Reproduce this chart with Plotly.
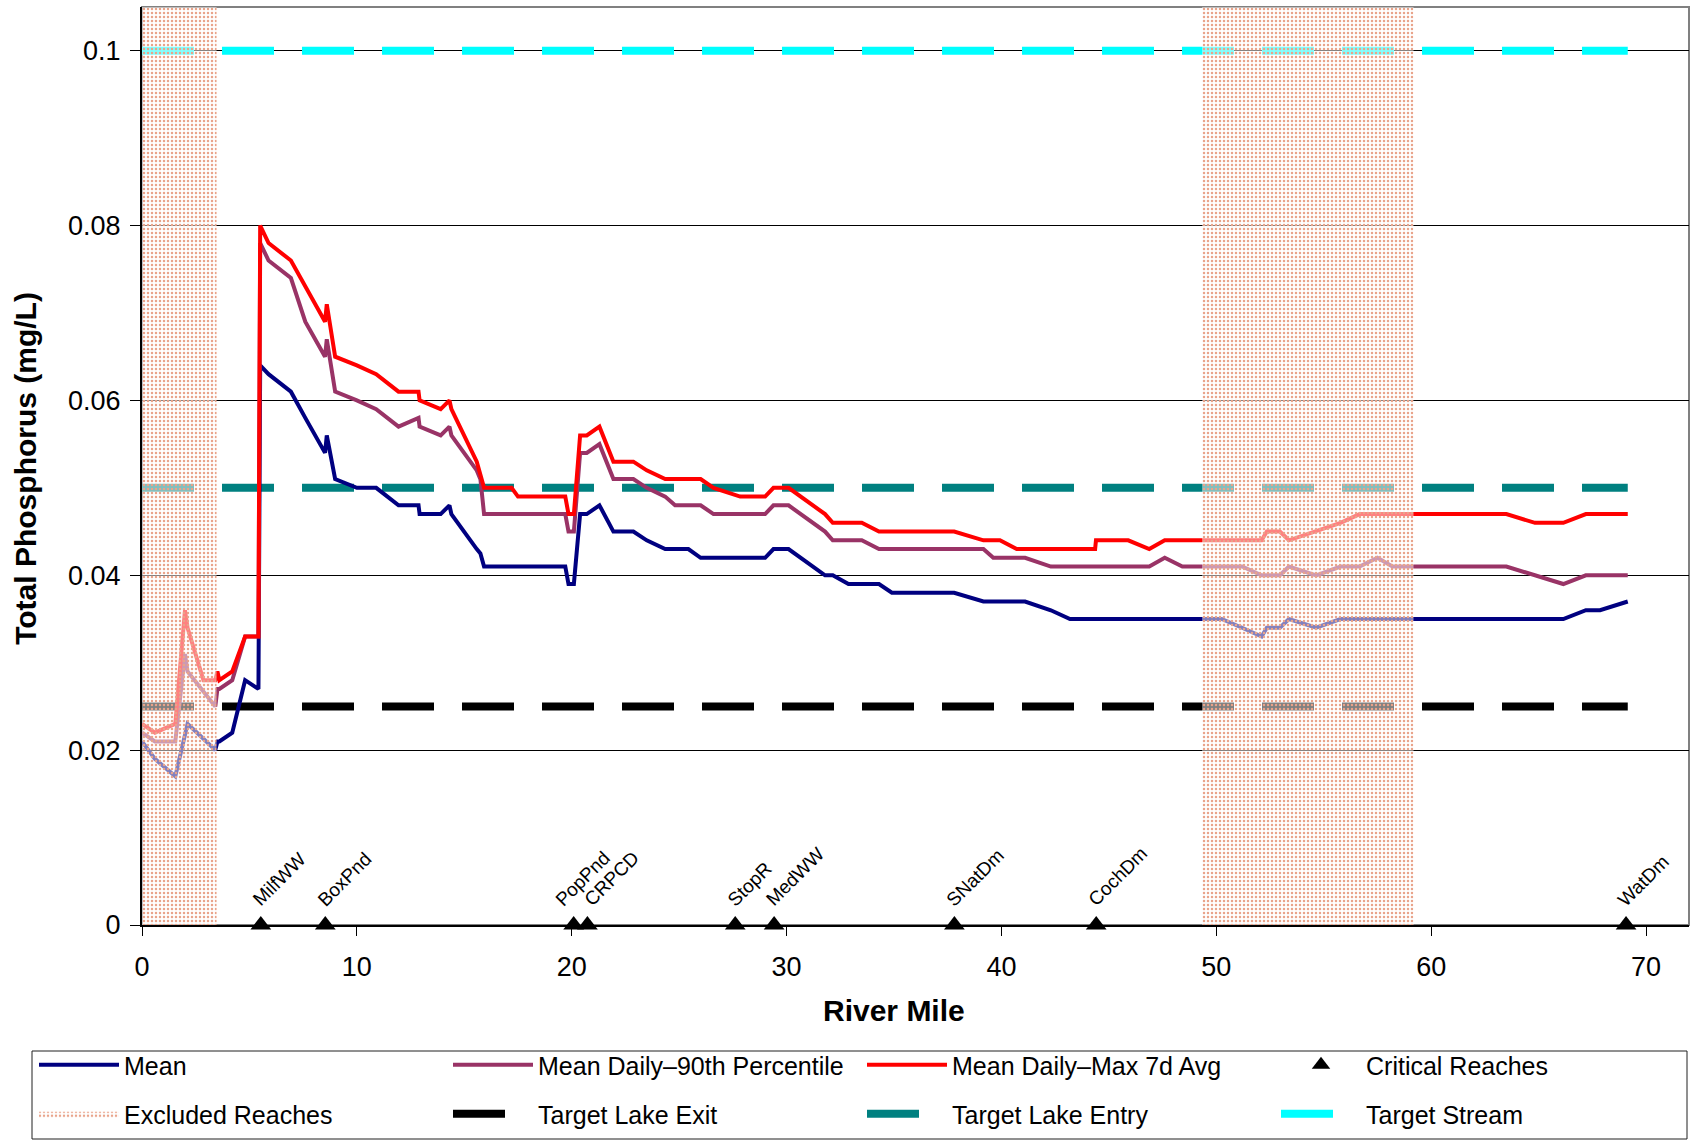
import plotly.graph_objects as go

# ---------------- data ----------------
mile = [0.0, 0.6, 1.55, 2.0, 2.12, 2.86, 3.41, 3.51, 3.6, 4.2, 4.8, 5.42, 5.5, 5.89, 6.93, 7.6,
        8.52, 8.6, 8.99, 10.0, 10.9, 11.94, 12.87, 12.92, 13.9, 14.31, 14.4, 15.58, 15.75, 15.92,
        17.2, 17.5, 19.7, 19.85, 20.1, 20.39, 20.7, 21.29, 21.94, 22.87, 23.49, 24.35, 24.81,
        25.43, 26.0, 26.6, 27.84, 29.0, 29.39, 30.09, 31.79, 32.15, 32.88, 33.5, 34.3, 34.9,
        37.8, 39.16, 39.62, 39.93, 40.71, 41.1, 42.3, 43.19, 44.36, 44.4, 45.9, 46.88, 47.6,
        48.42, 50.25, 51.2, 52.11, 52.35, 52.96, 53.38, 54.65, 55.78, 56.67, 57.5, 58.2, 63.5,
        64.83, 66.15, 67.2, 67.86, 69.15]

mean_tp = [0.021, 0.019, 0.017, 0.022, 0.023, 0.0213, 0.020, 0.021, 0.021, 0.022, 0.028, 0.027,
           0.064, 0.063, 0.061, 0.058, 0.054, 0.056, 0.051, 0.050, 0.050, 0.048, 0.048, 0.047,
           0.047, 0.048, 0.047, 0.043, 0.0425, 0.041, 0.041, 0.041, 0.041, 0.039, 0.039, 0.047,
           0.047, 0.048, 0.045, 0.045, 0.044, 0.043, 0.043, 0.043, 0.042, 0.042, 0.042, 0.042,
           0.043, 0.043, 0.040, 0.040, 0.039, 0.039, 0.039, 0.038, 0.038, 0.037, 0.037, 0.037,
           0.037, 0.037, 0.036, 0.035, 0.035, 0.035, 0.035, 0.035, 0.035, 0.035, 0.035, 0.034,
           0.033, 0.034, 0.034, 0.035, 0.034, 0.035, 0.035, 0.035, 0.035, 0.035, 0.035, 0.035,
           0.036, 0.036, 0.037]

p90_tp = [0.022, 0.021, 0.021, 0.031, 0.029, 0.0267, 0.025, 0.027, 0.027, 0.028, 0.033, 0.033,
          0.078, 0.076, 0.074, 0.069, 0.065, 0.067, 0.061, 0.060, 0.059, 0.057, 0.058, 0.057,
          0.056, 0.057, 0.056, 0.052, 0.051, 0.047, 0.047, 0.047, 0.047, 0.045, 0.045, 0.054,
          0.054, 0.055, 0.051, 0.051, 0.050, 0.049, 0.048, 0.048, 0.048, 0.047, 0.047, 0.047,
          0.048, 0.048, 0.045, 0.044, 0.044, 0.044, 0.043, 0.043, 0.043, 0.043, 0.042, 0.042,
          0.042, 0.042, 0.041, 0.041, 0.041, 0.041, 0.041, 0.041, 0.042, 0.041, 0.041, 0.041,
          0.040, 0.040, 0.040, 0.041, 0.040, 0.041, 0.041, 0.042, 0.041, 0.041, 0.040, 0.039,
          0.040, 0.040, 0.040]

max7d_tp = [0.023, 0.022, 0.023, 0.036, 0.034, 0.028, 0.028, 0.029, 0.028, 0.029, 0.033, 0.033,
            0.080, 0.078, 0.076, 0.073, 0.069, 0.071, 0.065, 0.064, 0.063, 0.061, 0.061, 0.060,
            0.059, 0.060, 0.059, 0.053, 0.0515, 0.050, 0.050, 0.049, 0.049, 0.047, 0.047, 0.056,
            0.056, 0.057, 0.053, 0.053, 0.052, 0.051, 0.051, 0.051, 0.051, 0.050, 0.049, 0.049,
            0.050, 0.050, 0.047, 0.046, 0.046, 0.046, 0.045, 0.045, 0.045, 0.044, 0.044, 0.044,
            0.043, 0.043, 0.043, 0.043, 0.043, 0.044, 0.044, 0.043, 0.044, 0.044, 0.044, 0.044,
            0.044, 0.045, 0.045, 0.044, 0.045, 0.046, 0.047, 0.047, 0.047, 0.047, 0.046, 0.046,
            0.047, 0.047, 0.047]

reach_names = ["MilfWW", "BoxPnd", "PopPnd", "CRPCD", "StopR", "MedWW", "SNatDm", "CochDm", "WatDm"]
reach_mile = [5.53, 8.53, 20.09, 20.73, 27.61, 29.42, 37.81, 44.41, 69.07]

excluded_start = [-0.3, 49.34]
excluded_end = [3.47, 59.18]

target_names = ["Target Lake Exit", "Target Lake Entry", "Target Stream"]
target_values = [0.025, 0.05, 0.1]
target_extent = [0.0, 69.15]

x_ticks = [0, 10, 20, 30, 40, 50, 60, 70]
y_ticks = [0, 0.02, 0.04, 0.06, 0.08, 0.1]
y_tick_text = ["0", "0.02", "0.04", "0.06", "0.08", "0.1"]

X_MAX = 72
Y_MAX = 0.105

FONT = "Liberation Sans, Arial, sans-serif"

# small label nudges so that close-together labels do not overlap (style only)
label_nudge = {"PopPnd": -10, "CRPCD": 5}

fig = go.Figure()

# target lines (drawn first, underneath)
target_colors = ["#000000", "#008080", "#00FFFF"]
for i, (name, val) in enumerate(zip(target_names, target_values)):
    fig.add_trace(go.Scatter(
        x=target_extent, y=[val, val], mode="lines", name=name,
        line=dict(color=target_colors[i], width=8, dash="52px,28px"),
        legend="legend2", legendrank=6 + i, hoverinfo="skip"))

# data series
series = [("Mean", mean_tp, "#000080", 1),
          ("Mean Daily\u201390th Percentile", p90_tp, "#993366", 2),
          ("Mean Daily\u2013Max 7d Avg", max7d_tp, "#FF0000", 3)]
for name, vals, col, rank in series:
    fig.add_trace(go.Scatter(
        x=mile, y=vals, mode="lines", name=name,
        line=dict(color=col, width=4), legend="legend", legendrank=rank))

# excluded reaches (dotted, semi-transparent overlay)
ex_x, ex_y = [], []
for s, e in zip(excluded_start, excluded_end):
    ex_x += [s, s, e, e, s, None]
    ex_y += [0, Y_MAX, Y_MAX, 0, 0, None]
fig.add_trace(go.Scatter(
    x=ex_x, y=ex_y, mode="lines", fill="toself", name="Excluded Reaches",
    line=dict(width=0, color="rgba(0,0,0,0)"),
    fillcolor="rgba(255,255,255,0.45)",
    fillpattern=dict(shape=".", fgcolor="#E9A38A", bgcolor="rgba(255,255,255,0.5)",
                     size=4, solidity=0.3, fillmode="replace"),
    legend="legend2", legendrank=5, hoverinfo="skip"))

# critical reaches
fig.add_trace(go.Scatter(
    x=reach_mile, y=[0] * len(reach_mile), mode="markers", name="Critical Reaches",
    marker=dict(symbol="triangle-up", size=18, color="black"),
    cliponaxis=False, legend="legend", legendrank=4, text=reach_names))

for nm, m in zip(reach_names, reach_mile):
    fig.add_annotation(x=m, y=0, text=nm, textangle=-45, showarrow=False,
                       xanchor="left", yanchor="bottom",
                       xshift=-15 + label_nudge.get(nm, 0), yshift=12,
                       font=dict(family=FONT, size=19, color="black"))

# axis titles
fig.add_annotation(xref="paper", yref="paper", x=0.486, y=-0.0926, text="<b>River Mile</b>",
                   showarrow=False, font=dict(family=FONT, size=30, color="black"),
                   xanchor="center", yanchor="middle")
fig.add_annotation(xref="paper", yref="paper", x=-0.075, y=0.498,
                   text="<b>Total Phosphorus (mg/L)</b>", textangle=-90,
                   showarrow=False, font=dict(family=FONT, size=30, color="black"),
                   xanchor="center", yanchor="middle")

# plot-area frame (gray, top/right visible)
fig.add_shape(type="rect", xref="paper", yref="paper", x0=0, y0=0, x1=1, y1=1,
              line=dict(color="#808080", width=2), layer="below")
# legend box
fig.add_shape(type="rect", xref="paper", yref="paper",
              x0=(32 - 142) / 1547, x1=(1687 - 142) / 1547,
              y0=(925 - 1139) / 918, y1=(925 - 1051) / 918,
              line=dict(color="#202020", width=1), fillcolor="rgba(0,0,0,0)", layer="below")

fig.update_xaxes(range=[0, X_MAX], tickvals=x_ticks, showgrid=False, zeroline=False,
                 showline=True, linecolor="#000000", linewidth=2,
                 ticks="outside", ticklen=9, tickcolor="#000000", tickwidth=1,
                 ticklabelstandoff=8,
                 tickfont=dict(family=FONT, size=27, color="black"))
fig.update_yaxes(range=[0, Y_MAX], tickvals=y_ticks, ticktext=y_tick_text,
                 showgrid=True, gridcolor="#000000", gridwidth=1, zeroline=False,
                 showline=True, linecolor="#000000", linewidth=2,
                 ticks="outside", ticklen=10, tickcolor="#000000", tickwidth=1,
                 ticklabelstandoff=4,
                 tickfont=dict(family=FONT, size=27, color="black"))

legend_common = dict(orientation="h", xref="paper", yref="paper",
                     x=(35 - 142) / 1547, xanchor="left", yanchor="top",
                     entrywidth=319, entrywidthmode="pixels", itemwidth=80,
                     bgcolor="rgba(0,0,0,0)", borderwidth=0,
                     font=dict(family=FONT, size=25, color="black"),
                     traceorder="normal", itemclick=False, itemdoubleclick=False)

fig.update_layout(
    width=1690, height=1143,
    margin=dict(l=142, r=1, t=7, b=218),
    paper_bgcolor="white", plot_bgcolor="white",
    showlegend=True,
    legend=dict(legend_common, y=(925 - 1042) / 918),
    legend2=dict(legend_common, y=(925 - 1091) / 918),
)

fig.write_html("out.html", config={"displayModeBar": False},
               post_script="document.body.style.margin='0px';")
